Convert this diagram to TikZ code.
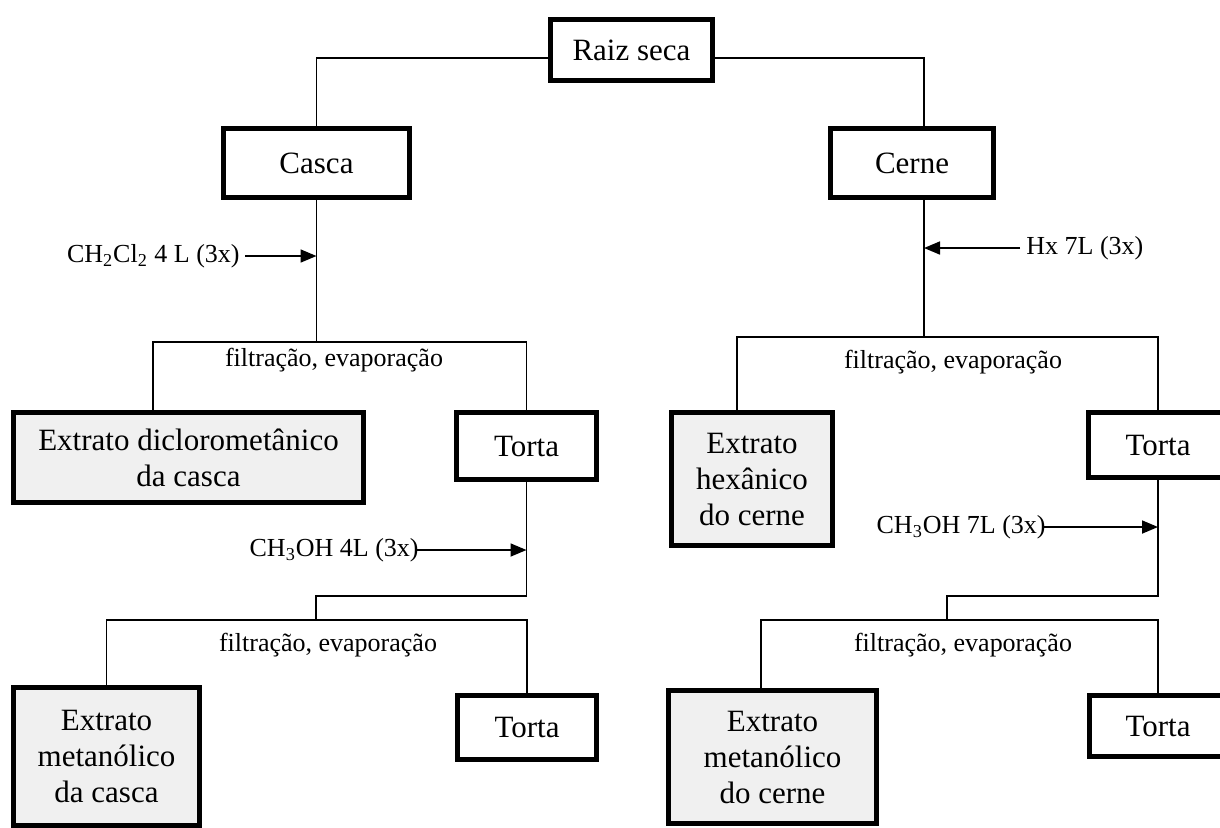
\documentclass[tikz,border=0pt]{standalone}
\usepackage{fontspec}
\setmainfont{Liberation Serif}
\usetikzlibrary{arrows.meta}

\tikzset{
  caixa/.style={draw,line width=2.5pt,fill=white,inner sep=0pt,align=center,
    font=\fontsize{15.5}{18}\selectfont},
  extrato/.style={caixa,fill=black!6},
  rotulo/.style={inner sep=0pt,font=\fontsize{13}{15}\selectfont},
  liga/.style={line width=.85pt},
  seta/.style={liga,-{Triangle[length=8pt,width=6.5pt]}}
}

\begin{document}
\begin{tikzpicture}
  [x=.5pt,y=-.5pt]

  \useasboundingbox (0,0) rectangle (1220,827);

  \node[caixa,minimum width=81pt,minimum height=30.5pt] (raiz) at (631.5,50) {Raiz seca};
  \node[caixa,minimum width=93pt,minimum height=34.5pt] (casca) at (316.5,163) {Casca};
  \node[caixa,minimum width=81.5pt,minimum height=34.5pt] (cerne) at (912,163) {Cerne};

  \coordinate (topo) at (631.5,58);
  \coordinate (sepA) at (316.5,342);
  \coordinate (sepB) at (924,337);

  \draw[liga] (topo -| raiz.west) -| (casca.north);
  \draw[liga] (topo -| raiz.east) -| (sepB |- cerne.north);
  \draw[liga] (casca.south) -- (sepA);
  \draw[liga] (sepB |- cerne.south) -- (sepB);

  \node[rotulo,anchor=east] (solvA) at (240,256) {CH\textsubscript{2}Cl\textsubscript{2} 4 L (3x)};
  \draw[seta] ([xshift=2.5pt]solvA.east) -- (solvA.east -| sepA);

  \node[rotulo,anchor=west] (solvB) at (1026,248) {Hx 7L (3x)};
  \draw[seta] ([xshift=-3pt]solvB.west) -- (solvB.west -| sepB);

  \node[extrato,minimum width=175pt,minimum height=45pt] (exdcm) at (188.5,457.5)
    {Extrato diclorometânico\\da casca};
  \node[caixa,minimum width=70pt,minimum height=33.5pt] (tortaA) at (526.5,446) {Torta};
  \node[extrato,minimum width=80.5pt,minimum height=66.5pt] (exhex) at (752,479)
    {Extrato\\hexânico\\do cerne};
  \node[caixa,minimum width=69.5pt,minimum height=32.5pt] (tortaB) at (1158,445) {Torta};

  \coordinate (dA) at (153,342);
  \coordinate (dB) at (737,337);

  \draw[liga] (dA |- exdcm.north) |- (tortaA.north |- sepA) -- (tortaA.north);
  \draw[liga] (dB |- exhex.north) |- (tortaB.north |- sepB) -- (tortaB.north);

  \node[rotulo] (filtA) at (334,360) {filtração, evaporação};
  \node[rotulo] (filtB) at (953,362) {filtração, evaporação};

  \node[rotulo,anchor=east] (solvC) at (419,550) {CH\textsubscript{3}OH 4L (3x)};
  \draw[seta] ([xshift=-1pt]solvC.east) -- (solvC.east -| tortaA.south);

  \node[rotulo,anchor=east] (solvD) at (1046,527) {CH\textsubscript{3}OH 7L (3x)};
  \draw[seta] ([xshift=-1pt]solvD.east) -- (solvD.east -| tortaB.south);

  \node[extrato,minimum width=93pt,minimum height=69pt] (exmca) at (106.5,756.5)
    {Extrato\\metanólico\\da casca};
  \node[caixa,minimum width=69.5pt,minimum height=32pt] (tortaC) at (527,727.5) {Torta};
  \node[extrato,minimum width=104pt,minimum height=66.5pt] (exmce) at (772.5,757)
    {Extrato\\metanólico\\do cerne};
  \node[caixa,minimum width=69pt,minimum height=30.5pt] (tortaD) at (1158,726) {Torta};

  \coordinate (sepC) at (316,620);
  \coordinate (sepD) at (947,620);
  \coordinate (dD) at (761,620);

  \draw[liga] (tortaA.south) |- ([yshift=12pt]sepC) -- (sepC);
  \draw[liga] (tortaB.south) |- ([yshift=12pt]sepD) -- (sepD);
  \draw[liga] (exmca.north) |- (tortaC.north |- sepC) -- (tortaC.north);
  \draw[liga] (dD |- exmce.north) |- (tortaD.north |- sepD) -- (tortaD.north);

  \node[rotulo] (filtC) at (328,645) {filtração, evaporação};
  \node[rotulo] (filtD) at (963,645) {filtração, evaporação};
\end{tikzpicture}
\end{document}
